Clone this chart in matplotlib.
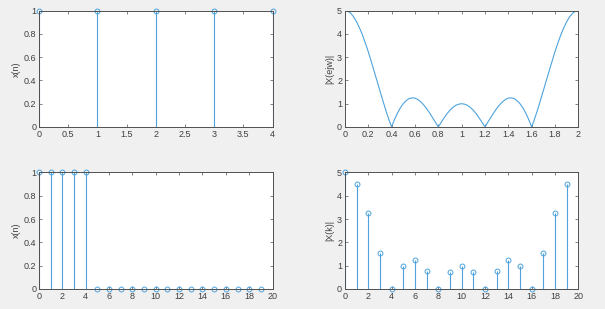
import matplotlib.pyplot as plt

# === data ===
n1 = [0, 1, 2, 3, 4]
x1 = [1, 1, 1, 1, 1]

# frequency axis (w/pi), step 0.025, and |X(e^jw)|
w = [i * 0.025 for i in range(81)]
Xw = [5.00, 4.97, 4.88, 4.73, 4.52, 4.26, 3.96, 3.61, 3.24, 2.83,
      2.41, 1.99, 1.56, 1.14, 0.73, 0.35, 0.00, 0.32, 0.59, 0.82,
      1.00, 1.13, 1.22, 1.25, 1.24, 1.18, 1.08, 0.95, 0.79, 0.61,
      0.41, 0.21, 0.00, 0.20, 0.39, 0.57, 0.72, 0.84, 0.93, 0.98,
      1.00,
      0.98, 0.93, 0.84, 0.72, 0.57, 0.39, 0.20, 0.00, 0.21, 0.41,
      0.61, 0.79, 0.95, 1.08, 1.18, 1.24, 1.25, 1.22, 1.13, 1.00,
      0.82, 0.59, 0.32, 0.00, 0.35, 0.73, 1.14, 1.56, 1.99, 2.41,
      2.83, 3.24, 3.61, 3.96, 4.26, 4.52, 4.73, 4.88, 4.97, 5.00]

n2 = list(range(20))
x2 = [1, 1, 1, 1, 1, 0, 0, 0, 0, 0, 0, 0, 0, 0, 0, 0, 0, 0, 0, 0]

k = list(range(20))
Xk = [5.00, 4.52, 3.24, 1.56, 0.00, 1.00, 1.24, 0.79, 0.00, 0.72,
      1.00, 0.72, 0.00, 0.79, 1.24, 1.00, 0.00, 1.56, 3.24, 4.52]

# === style ===
BLUE = "#4ea3dd"
AXC = "#505050"
TXT = "#404040"
plt.rcParams["font.family"] = ["Liberation Sans", "DejaVu Sans"]
plt.rcParams["font.size"] = 6.5

fig = plt.figure(figsize=(6.05, 3.09), dpi=100, facecolor="#f0f0f0")

L1, L2, W = 0.0645, 0.570, 0.386
B1, B2, H = 0.589, 0.065, 0.377


def style(ax, xt, yt, ylabel):
    ax.set_facecolor("white")
    for s in ax.spines.values():
        s.set_color(AXC)
        s.set_linewidth(0.7)
    ax.tick_params(direction="in", length=2.5, width=0.5, colors=AXC,
                   labelcolor=TXT, labelsize=6.5, pad=2, top=True, right=True)
    ax.set_xticks(xt)
    ax.set_yticks(yt)
    ax.set_xticklabels([f"{v:g}" for v in xt])
    ax.set_yticklabels([f"{v:g}" for v in yt])
    ax.set_xlim(xt[0], xt[-1])
    ax.set_ylim(yt[0], yt[-1])
    ax.set_ylabel(ylabel, fontsize=6.5, color=TXT, labelpad=2)


def stem(ax, xs, ys):
    ml, sl, bl = ax.stem(xs, ys, basefmt=" ")
    plt.setp(sl, color=BLUE, linewidth=0.8)
    plt.setp(ml, color=BLUE, marker="o", markersize=3.5,
             markerfacecolor="none", markeredgewidth=0.7, clip_on=False)


ax1 = fig.add_axes([L1, B1, W, H])
stem(ax1, n1, x1)
style(ax1, [0, 0.5, 1, 1.5, 2, 2.5, 3, 3.5, 4],
      [0, 0.2, 0.4, 0.6, 0.8, 1], "x(n)")

ax2 = fig.add_axes([L2, B1, W, H])
ax2.plot(w, Xw, color=BLUE, linewidth=0.8)
style(ax2, [0, 0.2, 0.4, 0.6, 0.8, 1, 1.2, 1.4, 1.6, 1.8, 2],
      [0, 1, 2, 3, 4, 5], "|X(ejw)|")

ax3 = fig.add_axes([L1, B2, W, H])
stem(ax3, n2, x2)
style(ax3, list(range(0, 21, 2)), [0, 0.2, 0.4, 0.6, 0.8, 1], "x(n)")

ax4 = fig.add_axes([L2, B2, W, H])
stem(ax4, k, Xk)
style(ax4, list(range(0, 21, 2)), [0, 1, 2, 3, 4, 5], "|X(k)|")

fig.savefig("out.png", dpi=100, facecolor=fig.get_facecolor())
